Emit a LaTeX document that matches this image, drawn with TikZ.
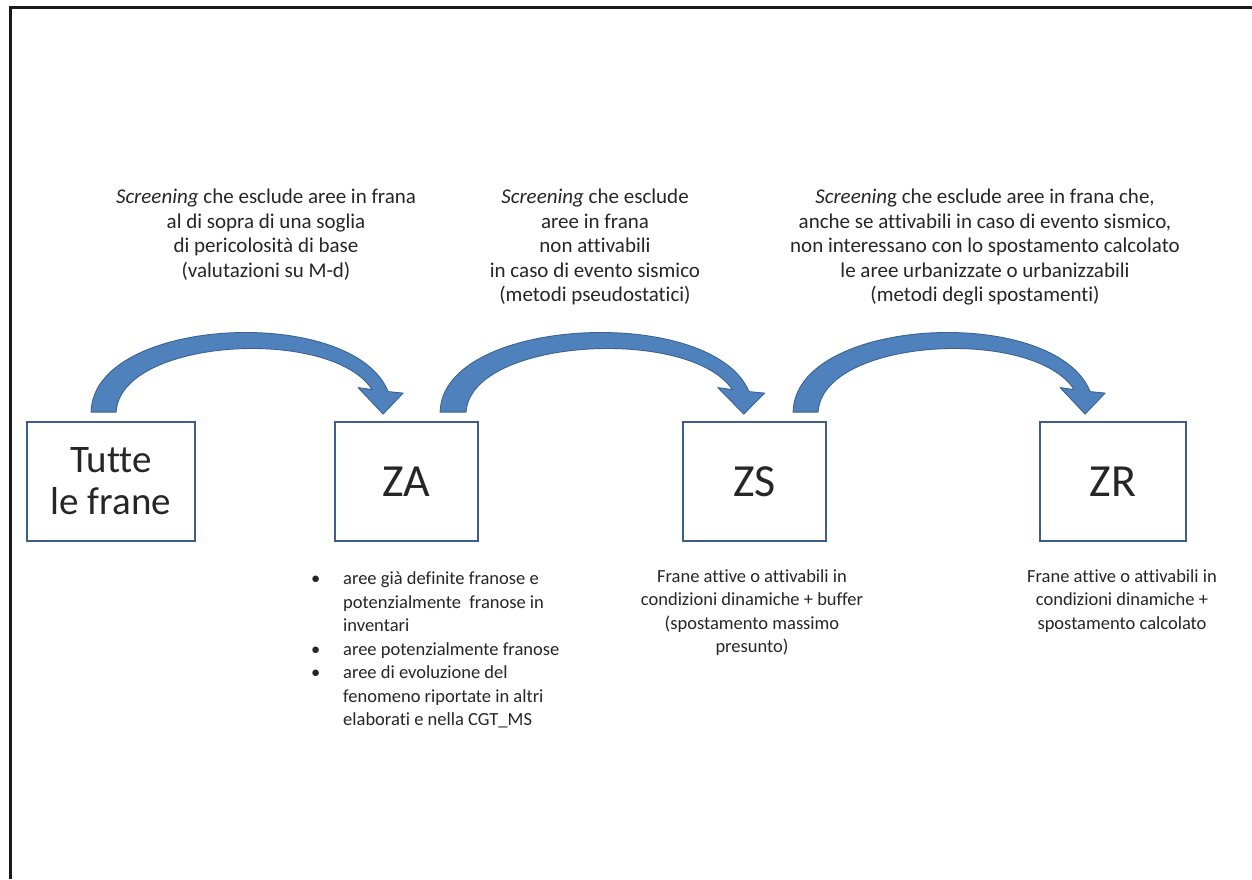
\documentclass[tikz,border=0pt]{standalone}
\usepackage{fontspec}
\setmainfont{Carlito}[Ligatures={NoCommon}]
\usetikzlibrary{calc}
\definecolor{arrowfill}{HTML}{4F81BD}
\definecolor{arrowline}{HTML}{3A6391}
\definecolor{boxline}{HTML}{3B5E8C}
\definecolor{ink}{HTML}{262626}
\begin{document}
\begin{tikzpicture}[x=1pt,y=-1pt,
  stagebox/.style={draw=boxline, line width=1.8pt, fill=white, minimum height=119pt, inner sep=0pt, text=ink},
  boxlabel/.style={font=\fontsize{46}{50}\selectfont},
  toptext/.style={align=center, inner sep=0pt, text=ink, font=\fontsize{21}{24.5}\selectfont},
  bottext/.style={align=center, inner sep=0pt, text=ink, font=\fontsize{18.5}{23.5}\selectfont},
  bendarrow/.pic={
    \path[fill=arrowfill, draw=arrowline, line width=0.9pt, line join=round]
      (0,0) .. controls (2,-96) and (262,-108) .. (297,-20.5)
      -- (312,-19) -- (292,2) -- (267,-24.5) -- (281,-22.5)
      .. controls (240,-86) and (29,-74) .. (25,0) -- cycle;
  }]
\useasboundingbox (0,0) rectangle (1252,879);
\fill[white] (0,0) rectangle (1252,879);

% page frame (top and left edges only)
\draw[line width=3pt, black!90] (10,879) -- (10,7) -- (1252,7);

% stage boxes
\node[stagebox, minimum width=168pt, font=\fontsize{39}{42}\selectfont, align=center] (tutte) at (111,481.5) {Tutte\\le frane};
\node[stagebox, boxlabel, minimum width=143pt] (za) at (406.5,481.5) {ZA};
\node[stagebox, boxlabel, minimum width=143pt] (zs) at (754.5,481.5) {ZS};
\node[stagebox, boxlabel, minimum width=146pt] (zr) at (1113,481.5) {ZR};

% curved block arrows between stages
\pic at ($(tutte.north west)+(65,-9)$) {bendarrow};
\pic[xscale=1.04] at ($(za.north west)+(106,-9)$) {bendarrow};
\pic at ($(zs.north west)+(111,-9)$) {bendarrow};

% screening descriptions
\node[toptext, anchor=north] (s1) at (266,189) {\textit{Screening} che esclude aree in frana\\al di sopra di una soglia\\di pericolosità di base\\(valutazioni su M-d)};
\node[toptext, anchor=north] (s2) at (595,189) {\textit{Screening} che esclude\\aree in frana\\non attivabili\\in caso di evento sismico\\(metodi pseudostatici)};
\node[toptext, anchor=north] (s3) at (985,189) {\textit{Screenin}g che esclude aree in frana che,\\anche se attivabili in caso di evento sismico,\\non interessano con lo spostamento calcolato\\le aree urbanizzate o urbanizzabili\\(metodi degli spostamenti)};

% stage contents
\node[anchor=north west, inner sep=0pt, text=ink, font=\fontsize{18.5}{23.5}\selectfont] (zalist) at (311,568) {%
  \begin{tabular}{@{}p{32pt}@{}l@{}}
  \textbullet & aree già definite franose e\\
   & potenzialmente\ \ franose in\\
   & inventari\\
  \textbullet & aree potenzialmente\ franose\\
  \textbullet & aree di evoluzione\ del\\
   & fenomeno\ riportate\ in altri\\
   & elaborati e nella CGT\_MS
  \end{tabular}};
\node[bottext, anchor=north] (zstext) at (752,569) {Frane attive o\ attivabili in\\condizioni\ dinamiche + buffer\\(spostamento massimo\\presunto)};
\node[bottext, anchor=north] (zrtext) at (1122,569) {Frane attive o attivabili in\\condizioni dinamiche +\\spostamento calcolato};
\end{tikzpicture}
\end{document}
